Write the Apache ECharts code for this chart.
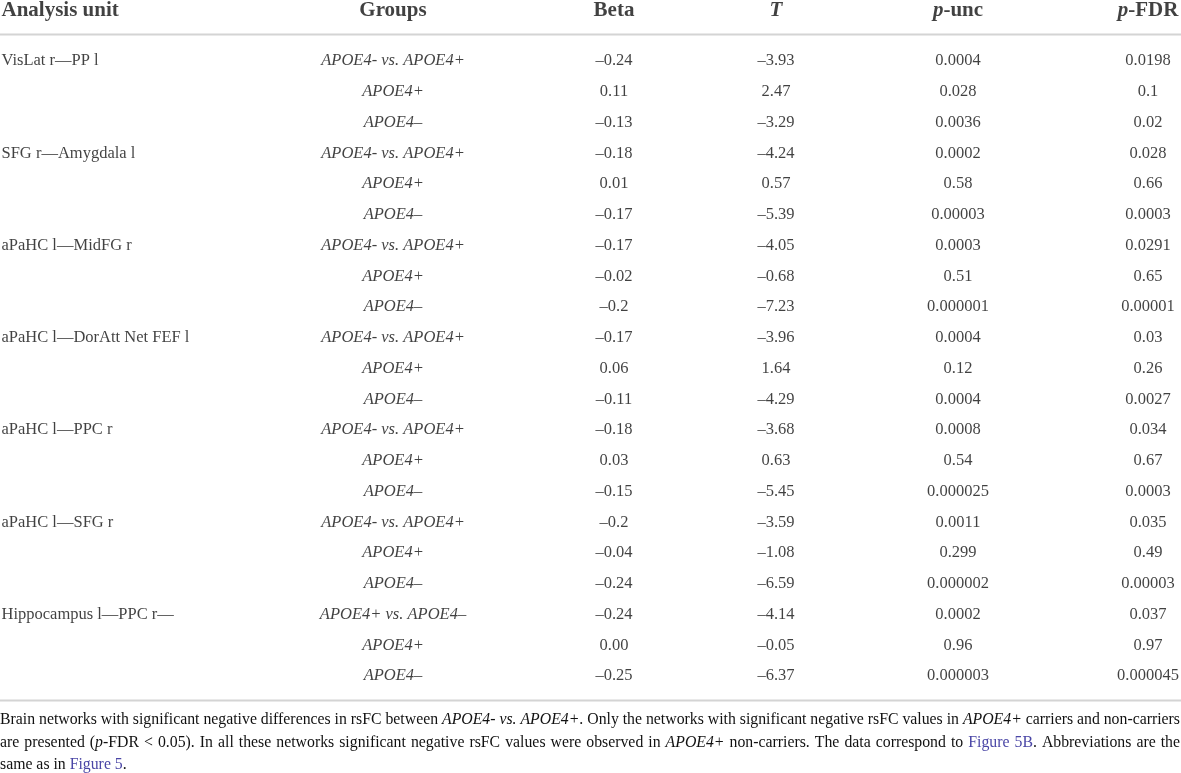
<!DOCTYPE html>
<html><head><meta charset="utf-8">
<script src="https://cdn.jsdelivr.net/npm/echarts/dist/echarts.min.js"></script>
<style>html,body{margin:0;padding:0;background:#fff;overflow:hidden}#c{width:1181px;height:773px}</style>
</head><body><div id="c"></div>
<script>
// ---- data ----
const headers = ['Analysis unit', 'Groups', 'Beta', '{bi|T}', '{bi|p}-unc', '{bi|p}-FDR'];
const units = ['VisLat r—PP l', 'SFG r—Amygdala l', 'aPaHC l—MidFG r', 'aPaHC l—DorAtt Net FEF l',
  'aPaHC l—PPC r', 'aPaHC l—SFG r', 'Hippocampus l—PPC r—'];
const groups = [
  'APOE4- vs. APOE4+', 'APOE4+', 'APOE4–',
  'APOE4- vs. APOE4+', 'APOE4+', 'APOE4–',
  'APOE4- vs. APOE4+', 'APOE4+', 'APOE4–',
  'APOE4- vs. APOE4+', 'APOE4+', 'APOE4–',
  'APOE4- vs. APOE4+', 'APOE4+', 'APOE4–',
  'APOE4- vs. APOE4+', 'APOE4+', 'APOE4–',
  'APOE4+ vs. APOE4–', 'APOE4+', 'APOE4–'];
const beta = ['–0.24', '0.11', '–0.13', '–0.18', '0.01', '–0.17', '–0.17', '–0.02', '–0.2',
  '–0.17', '0.06', '–0.11', '–0.18', '0.03', '–0.15', '–0.2', '–0.04', '–0.24', '–0.24', '0.00', '–0.25'];
const tVals = ['–3.93', '2.47', '–3.29', '–4.24', '0.57', '–5.39', '–4.05', '–0.68', '–7.23',
  '–3.96', '1.64', '–4.29', '–3.68', '0.63', '–5.45', '–3.59', '–1.08', '–6.59', '–4.14', '–0.05', '–6.37'];
const pUnc = ['0.0004', '0.028', '0.0036', '0.0002', '0.58', '0.00003', '0.0003', '0.51', '0.000001',
  '0.0004', '0.12', '0.0004', '0.0008', '0.54', '0.000025', '0.0011', '0.299', '0.000002', '0.0002', '0.96', '0.000003'];
const pFdr = ['0.0198', '0.1', '0.02', '0.028', '0.66', '0.0003', '0.0291', '0.65', '0.00001',
  '0.03', '0.26', '0.0027', '0.034', '0.67', '0.0003', '0.035', '0.49', '0.00003', '0.037', '0.97', '0.000045'];
const captionLines = [
  'Brain networks with significant negative differences in rsFC between {i|APOE4-} {i|vs.} {i|APOE4+}. Only the networks with significant negative rsFC values in {i|APOE4+} carriers and non-carriers',
  'are presented ({i|p}-FDR < 0.05). In all these networks significant negative rsFC values were observed in {i|APOE4+} non-carriers. The data correspond to {l|Figure} {l|5B}. Abbreviations are the',
  'same as in {l|Figure} {l|5}.'
];

// ---- layout ----
const W = 1181;
const colX = [1.5, 393, 614, 776, 958, 1148];
const ROW0 = 61, ROWH = 30.75, NROWS = 21;
const HEADER_Y = 10.5;
const FONT = '"Liberation Serif", "DejaVu Serif", serif';
const TXT = '#111111';
const LINK = '#4a46a6';
const headerIdx = (HEADER_Y - ROW0) / ROWH;

const chart = echarts.init(document.getElementById('c'), null, {renderer: 'canvas'});

const baseLabel = {show: true, fontFamily: FONT, fontSize: 16.5, color: TXT, formatter: p => p.data[2]};
const headLabel = {
  show: true, fontFamily: FONT, fontSize: 21, fontWeight: 'bold', color: TXT,
  formatter: p => p.data[2],
  rich: {bi: {fontFamily: FONT, fontSize: 21, fontWeight: 'bold', fontStyle: 'italic', color: TXT}}
};
function colSeries(col, values, extra) {
  return Object.assign({
    type: 'scatter', symbolSize: 0, clip: false, silent: true,
    data: values.map((v, i) => [colX[col], i, v]),
    label: Object.assign({}, baseLabel, {position: 'inside'})
  }, extra || {});
}

const series = [
  {
    type: 'scatter', symbolSize: 0, clip: false, silent: true,
    data: [[colX[0], headerIdx, headers[0]]],
    label: Object.assign({}, headLabel, {position: 'right', distance: 0})
  },
  {
    type: 'scatter', symbolSize: 0, clip: false, silent: true,
    data: headers.slice(1).map((h, c) => [colX[c + 1], headerIdx, h]),
    label: Object.assign({}, headLabel, {position: 'inside'})
  },
  {
    type: 'scatter', symbolSize: 0, clip: false, silent: true,
    data: units.map((u, k) => [colX[0], k * 3, u]),
    label: Object.assign({}, baseLabel, {position: 'right', distance: 0})
  },
  colSeries(1, groups, {label: Object.assign({}, baseLabel, {position: 'inside', fontStyle: 'italic'})}),
  colSeries(2, beta),
  colSeries(3, tVals),
  colSeries(4, pUnc),
  colSeries(5, pFdr)
];

// ---- caption (justified, horizontally condensed to fit) ----
const cv = document.createElement('canvas').getContext('2d');
function fontStr(s, size) { return (s === 'i' ? 'italic ' : '') + size + 'px ' + FONT; }
function parseWord(w) {
  const parts = []; const re = /\{(i|l)\|([^}]*)\}|([^{]+)/g; let m;
  while ((m = re.exec(w))) { if (m[3] !== undefined) parts.push({s: 'n', t: m[3]}); else parts.push({s: m[1], t: m[2]}); }
  return parts;
}
function measure(parts, size) {
  return parts.map(p => { cv.font = fontStr(p.s, size); return cv.measureText(p.t).width; });
}
const capY = [720, 743, 765];
const capSize = 16.5;
cv.font = fontStr('n', capSize);
const SP = cv.measureText(' ').width * 0.95;
const lineData = captionLines.map(line => {
  const words = line.split(' ').map(parseWord);
  const widths = words.map(w => measure(w, capSize));
  const total = widths.reduce((a, ws) => a + ws.reduce((b, x) => b + x, 0), 0);
  return {words, widths, total};
});
let sx = 1;
for (let li = 0; li < 2; li++) {
  const d = lineData[li];
  sx = Math.min(sx, (W - 1 - SP * (d.words.length - 1)) / d.total);
}
const capEls = [];
lineData.forEach((d, li) => {
  const gap = li < 2 ? (W - 1 - d.total * sx) / (d.words.length - 1) : SP;
  let x = 0;
  d.words.forEach((w, wi) => {
    w.forEach((p, pi) => {
      capEls.push({
        type: 'text', x: x, y: capY[li], scaleX: sx, silent: true,
        style: {
          text: p.t, fontFamily: FONT, fontSize: capSize,
          fontStyle: p.s === 'i' ? 'italic' : 'normal',
          fill: p.s === 'l' ? LINK : TXT, verticalAlign: 'middle', align: 'left'
        }
      });
      x += d.widths[wi][pi] * sx;
    });
    x += gap;
  });
});

const ruleStyle = {stroke: '#d4d4d4', lineWidth: 2};
chart.setOption({
  animation: false,
  backgroundColor: '#ffffff',
  grid: {left: 0, right: 0, top: ROW0 - ROWH / 2, height: ROWH * NROWS},
  xAxis: {type: 'value', min: 0, max: W, show: false},
  yAxis: {type: 'value', min: -0.5, max: NROWS - 0.5, inverse: true, show: false},
  series: series,
  graphic: [
    {type: 'line', shape: {x1: 0, y1: 34.5, x2: W, y2: 34.5}, style: ruleStyle, silent: true},
    {type: 'line', shape: {x1: 0, y1: 700.5, x2: W, y2: 700.5}, style: ruleStyle, silent: true}
  ].concat(capEls)
});
</script>
</body></html>
